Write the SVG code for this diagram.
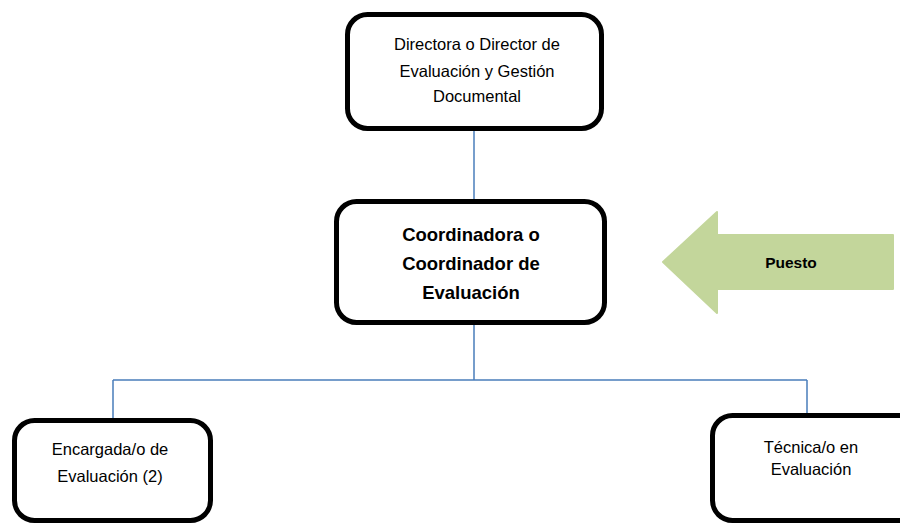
<svg xmlns="http://www.w3.org/2000/svg" width="900" height="525" viewBox="0 0 900 525">
<style>
.box{fill:#fff;stroke:#000;stroke-width:5}
.t{font-family:"Liberation Sans",Arial,sans-serif;font-size:16.5px;fill:#000;text-anchor:middle}
.b{font-family:"Liberation Sans",Arial,sans-serif;font-size:18.5px;font-weight:bold;fill:#000;text-anchor:middle}
.c{fill:none;stroke:#4a7ebb;stroke-width:1.5}
</style>
<rect width="900" height="525" fill="#fff"/>
<g id="connectors">
<path class="c" d="M474,131 V200"/>
<path class="c" d="M474,325 V380 M113,380 H807 M113,380 V419 M807,380 V413"/>
</g>
<g id="director">
<rect class="box" x="347.5" y="14.5" width="254" height="114" rx="20"/>
<text class="t" x="477" y="50">Directora o Director de</text>
<text class="t" x="477" y="77">Evaluación y Gestión</text>
<text class="t" x="477" y="102">Documental</text>
</g>
<g id="coordinador">
<rect class="box" x="336.5" y="201.5" width="268" height="121" rx="20"/>
<text class="b" x="471" y="241">Coordinadora o</text>
<text class="b" x="471" y="270">Coordinador de</text>
<text class="b" x="471" y="299">Evaluación</text>
</g>
<g id="puesto">
<polygon points="663,262 717,212 717,235 893,235 893,289 717,289 717,313" fill="#c3d69b" stroke="#c3d69b" stroke-width="2" stroke-linejoin="round"/>
<text class="b" x="791" y="268" style="font-size:15.5px">Puesto</text>
</g>
<g id="encargada">
<rect class="box" x="14.5" y="420.5" width="196" height="100" rx="20"/>
<text class="t" x="110" y="455">Encargada/o de</text>
<text class="t" x="110" y="482">Evaluación (2)</text>
</g>
<g id="tecnica">
<rect class="box" x="712.5" y="415.5" width="220" height="105" rx="20"/>
<text class="t" x="811" y="453">Técnica/o en</text>
<text class="t" x="811" y="475">Evaluación</text>
</g>
</svg>
